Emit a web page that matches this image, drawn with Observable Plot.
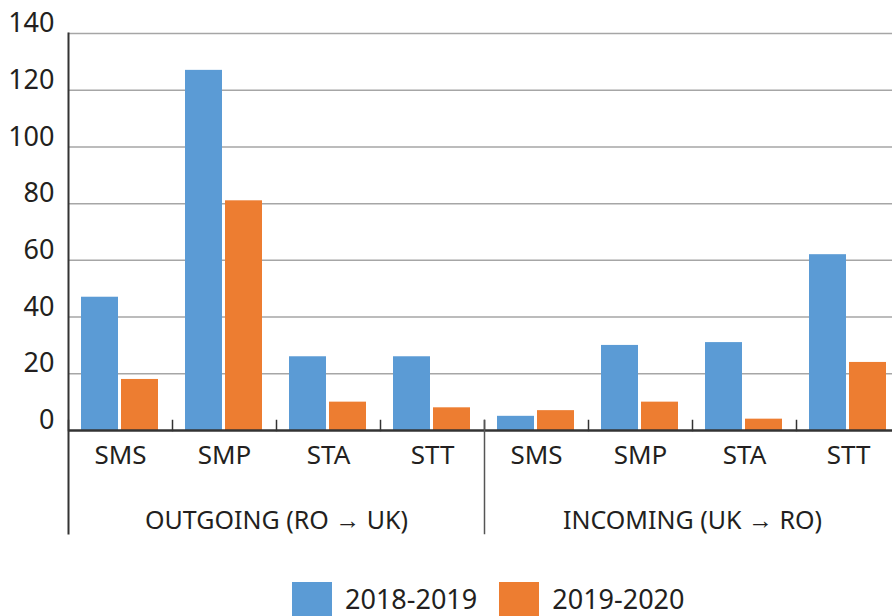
<!DOCTYPE html>
<html>
<head>
<meta charset="utf-8">
<script src="https://cdn.jsdelivr.net/npm/d3@7"></script>
<script src="https://cdn.jsdelivr.net/npm/@observablehq/plot@0.6"></script>
<style>
  html, body { margin: 0; padding: 0; background: #fff; overflow: hidden; }
  #chart svg { display: block; overflow: hidden; }
  .legend { display: flex; align-items: flex-start; margin-left: 292px; margin-top: 10px; font-family: "Noto Sans", sans-serif; font-size: 27px; color: #231f20; height: 34px; line-height: 34px; }
  .legend .item { display: flex; align-items: flex-start; margin-right: 22px; }
  .legend .sw { width: 40px; height: 40px; margin-right: 13px; }
</style>
</head>
<body>
<div id="chart"></div>
<script>
const groups = ["OUTGOING (RO \u2192 UK)", "INCOMING (UK \u2192 RO)"];
const categories = ["SMS", "SMP", "STA", "STT"];
const series = ["2018-2019", "2019-2020"];
const colors = ["#5B9BD5", "#ED7D31"];
const values2018 = [47, 127, 26, 26, 5, 30, 31, 62];
const values2019 = [18, 81, 10, 8, 7, 10, 4, 24];
const yTicks = [0, 20, 40, 60, 80, 100, 120, 140];

const keys = [];
groups.forEach((g, gi) => categories.forEach(c => keys.push(gi + "|" + c)));
const rows = [];
keys.forEach((k, i) => {
  rows.push({key: k, series: series[0], value: values2018[i]});
  rows.push({key: k, series: series[1], value: values2019[i]});
});
const groupLabels = groups.map((g, gi) => ({key: gi + "|" + categories[2], label: g}));

const font = "Noto Sans, sans-serif";
const chart = Plot.plot({
  width: 892,
  height: 572,
  marginTop: 33,
  marginBottom: 142,
  marginLeft: 67,
  marginRight: -9,
  style: {fontFamily: font, color: "#231f20", background: "#fff"},
  fx: {domain: keys, padding: 0, axis: null},
  x: {domain: series, paddingInner: 0.073, paddingOuter: 0.305, axis: null},
  y: {domain: [0, 140], axis: null},
  color: {domain: series, range: colors},
  marks: [
    Plot.ruleY(yTicks.filter(d => d > 0), {stroke: "#a6a6a6", strokeWidth: 1.5}),
    Plot.barY(rows, {fx: "key", x: "series", y: "value", fill: "series"}),
    Plot.ruleY([0], {stroke: "#333", strokeWidth: 2.5}),
    Plot.frame({anchor: "left", insetTop: 387, stroke: "#333", strokeWidth: 1.5}),
    Plot.frame({anchor: "left", fx: () => keys[4], insetTop: 387, insetBottom: -103, stroke: "#555", strokeWidth: 1.5}),
    Plot.frame({anchor: "left", fx: () => keys[0], insetBottom: -103, stroke: "#333", strokeWidth: 2}),
    Plot.axisY(yTicks, {anchor: "left", tickSize: 0, tickPadding: 14, dy: -10, fontSize: 27, textAnchor: "end", label: null}),
    Plot.axisFx({anchor: "bottom", tickSize: 0, tickPadding: 15, fontSize: 26, tickFormat: d => d.split("|")[1], label: null}),
    Plot.text(groupLabels, {fx: "key", text: "label", frameAnchor: "bottom-left", dy: 98, textAnchor: "middle", fontSize: 25, fill: "#231f20"})
  ]
});
document.getElementById("chart").appendChild(chart);

const legend = document.createElement("div");
legend.className = "legend";
series.forEach((s, i) => {
  const item = document.createElement("div");
  item.className = "item";
  const sw = document.createElement("div");
  sw.className = "sw";
  sw.style.background = colors[i];
  const t = document.createElement("span");
  t.textContent = s;
  item.appendChild(sw);
  item.appendChild(t);
  legend.appendChild(item);
});
document.body.appendChild(legend);
</script>
</body>
</html>
